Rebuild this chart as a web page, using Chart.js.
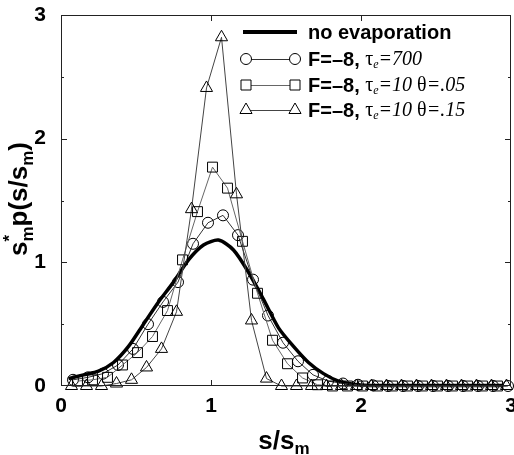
<!DOCTYPE html>
<html>
<head>
<meta charset="utf-8">
<script src="https://cdn.jsdelivr.net/npm/chart.js@4"></script>
<style>
  html,body{margin:0;padding:0;background:#fff;overflow:hidden}
</style>
</head>
<body>
<canvas id="c" width="520" height="455"></canvas>
<script>
// ---------- data ----------
const xNoEvap = [0.05,0.15,0.25,0.35,0.45,0.55,0.65,0.75,0.85,0.95,1.05,1.15,1.25,1.35,1.45,1.55,1.65,1.75,1.85,1.95,2.05,2.15,2.25,2.35,2.45,2.55,2.65,2.75,2.85,2.95];
const yNoEvap = [0.06,0.09,0.12,0.19,0.32,0.50,0.68,0.84,1.02,1.14,1.18,1.10,0.92,0.70,0.47,0.32,0.19,0.10,0.04,0.015,0.005,0.005,0.005,0.005,0.005,0.005,0.005,0.005,0.005,0.005];

const xTau700 = [0.08,0.18,0.28,0.38,0.48,0.58,0.68,0.78,0.88,0.98,1.08,1.18,1.28,1.38,1.48,1.58,1.68,1.78,1.88,1.98,2.08,2.18,2.28,2.38,2.48,2.58,2.68,2.78,2.88,2.98];
const yTau700 = [0.05,0.07,0.10,0.17,0.30,0.50,0.68,0.84,1.15,1.32,1.38,1.22,0.86,0.57,0.35,0.20,0.09,0.04,0.02,0.01,0.005,0,0,0,0,0,0,0,0,0];

const xTheta05 = [0.11,0.21,0.31,0.41,0.51,0.61,0.71,0.81,0.91,1.01,1.11,1.21,1.31,1.41,1.51,1.61,1.71,1.81,1.91,2.01,2.11,2.21,2.31,2.41,2.51,2.61,2.71,2.81,2.91];
const yTheta05 = [0.04,0.05,0.07,0.17,0.27,0.40,0.61,1.02,1.41,1.77,1.60,1.17,0.75,0.37,0.18,0.065,0.01,0,0,0,0,0,0,0,0,0,0,0,0];

const xTheta15 = [0.07,0.17,0.27,0.37,0.47,0.57,0.67,0.77,0.87,0.97,1.07,1.17,1.27,1.37,1.47,1.57,1.67,1.77,1.87,1.97,2.07,2.17,2.27,2.37,2.47,2.57,2.67,2.77,2.87,2.97];
const yTheta15 = [0,0,0,0.02,0.05,0.15,0.30,0.60,1.43,2.41,2.82,1.55,0.53,0.06,0,0,0,0,0,0,0,0,0,0,0,0,0,0,0,0];

const xTicks = [0,1,2,3];
const yTicks = [0,1,2,3];
const minorTicks = [0.5,1.5,2.5];

const SANS = '"Liberation Sans", Arial, sans-serif';
const SERIF = '"Liberation Serif", "Times New Roman", serif';

const pts = (xs, ys)=> xs.map((x,i)=>({x, y:ys[i]}));

// ---------- helpers ----------
function runsWidth(ctx, runs) {
  let w = 0;
  runs.forEach(r=>{ ctx.font = r.f; if (!r.keep) w += ctx.measureText(r.t).width; });
  return w;
}
function drawRuns(ctx, x, y, runs) {
  runs.forEach(r=>{
    ctx.font = r.f;
    ctx.fillText(r.t, x, y + (r.dy||0));
    if (!r.keep) x += ctx.measureText(r.t).width;
  });
}
function marker(ctx, style, x, y) {
  ctx.beginPath();
  if (style==='circle') ctx.arc(x, y, 5.5, 0, Math.PI*2);
  else if (style==='rect') ctx.rect(x-5, y-5, 10, 10);
  else { const r=7; ctx.moveTo(x, y-r); ctx.lineTo(x+0.866*r, y+0.5*r); ctx.lineTo(x-0.866*r, y+0.5*r); ctx.closePath(); }
  ctx.fillStyle='#fff'; ctx.fill(); ctx.stroke();
}

// ---------- frame, ticks, titles, legend ----------
const decor = {
  id:'decor',
  afterDraw(chart) {
    const {ctx, chartArea:a, scales:{x, y}} = chart;
    ctx.save();
    ctx.strokeStyle='#222'; ctx.lineWidth=1;
    ctx.strokeRect(a.left+0.5, a.top+0.5, a.right-a.left-1, a.bottom-a.top-1);
    ctx.beginPath();
    xTicks.slice(1,-1).forEach(v=>{
      const px = Math.round(x.getPixelForValue(v))+0.5;
      ctx.moveTo(px, a.bottom); ctx.lineTo(px, a.bottom-6);
      ctx.moveTo(px, a.top); ctx.lineTo(px, a.top+6);
    });
    yTicks.slice(1,-1).forEach(v=>{
      const py = Math.round(y.getPixelForValue(v))+0.5;
      ctx.moveTo(a.left, py); ctx.lineTo(a.left+6, py);
      ctx.moveTo(a.right, py); ctx.lineTo(a.right-6, py);
    });
    minorTicks.forEach(v=>{
      const py = Math.round(y.getPixelForValue(v))+0.5;
      ctx.moveTo(a.left, py); ctx.lineTo(a.left+3, py);
      ctx.moveTo(a.right, py); ctx.lineTo(a.right-3, py);
    });
    ctx.stroke();

    ctx.fillStyle='#000'; ctx.textBaseline='alphabetic'; ctx.textAlign='left';
    // x title
    const xt = [
      {t:'s/s', f:'bold 26px '+SANS},
      {t:'m', f:'bold 17px '+SANS, dy:5}
    ];
    drawRuns(ctx, 284 - runsWidth(ctx, xt)/2, 449, xt);

    // y title (rotated)
    const yt = [
      {t:'s', f:'bold 26px '+SANS},
      {t:'*', f:'bold 17px '+SANS, dy:-12, keep:true},
      {t:'m', f:'bold 17px '+SANS, dy:6},
      {t:'p(s/s', f:'bold 26px '+SANS},
      {t:'m', f:'bold 17px '+SANS, dy:6},
      {t:')', f:'bold 26px '+SANS}
    ];
    ctx.save();
    ctx.translate(27, 199);
    ctx.rotate(-Math.PI/2);
    drawRuns(ctx, -runsWidth(ctx, yt)/2, 0, yt);
    ctx.restore();

    // legend
    const lx0 = 246, lx1 = 295, tx = 308;
    const rows = [32, 59, 85, 110];
    ctx.lineWidth = 4; ctx.strokeStyle='#000';
    ctx.beginPath(); ctx.moveTo(243, rows[0]); ctx.lineTo(297, rows[0]); ctx.stroke();
    ctx.textBaseline='middle';
    ctx.font='bold 20px '+SANS; ctx.fillText('no evaporation', tx, rows[0]+1);

    const styles = ['circle','rect','triangle'];
    const tails = [
      [{t:'=700', f:'italic 20px '+SERIF}],
      [{t:'=10 ', f:'italic 20px '+SERIF},{t:'θ', f:'20px '+SERIF},{t:'=.05', f:'italic 20px '+SERIF}],
      [{t:'=10 ', f:'italic 20px '+SERIF},{t:'θ', f:'20px '+SERIF},{t:'=.15', f:'italic 20px '+SERIF}]
    ];
    const lineCols = ['#333','#666','#444'];
    styles.forEach((s,i)=>{
      const ry = rows[i+1];
      ctx.lineWidth=1; ctx.strokeStyle=lineCols[i];
      ctx.beginPath(); ctx.moveTo(lx0, ry+0.5); ctx.lineTo(lx1, ry+0.5); ctx.stroke();
      ctx.strokeStyle='#000';
      marker(ctx, s, lx0, ry); marker(ctx, s, lx1, ry);
      ctx.fillStyle='#000';
      drawRuns(ctx, tx, ry+1, [
        {t:'F=–8, ', f:'bold 20px '+SANS},
        {t:'τ', f:'20px '+SERIF},
        {t:'e', f:'italic 12px '+SERIF, dy:5}
      ].concat(tails[i]));
    });
    ctx.restore();
  }
};

// ---------- chart ----------
const series = (label, data, style, color, radius)=>({
  label, data, showLine:true, borderColor:color, borderWidth:1,
  pointStyle:style, pointRadius:radius, pointBorderColor:'#000', pointBorderWidth:1,
  pointBackgroundColor:'rgba(255,255,255,0)', clip:false, tension:0
});

// canvas is 6px wider than the window so the last x label gets cut at the edge like the original
new Chart(document.getElementById('c'), {
  type:'scatter',
  data:{
    datasets:[
      series('F=-8, tau=10 theta=.15', pts(xTheta15, yTheta15), 'triangle', '#444', 7),
      series('F=-8, tau=10 theta=.05', pts(xTheta05, yTheta05), 'rect', '#666', 7),
      series('F=-8, tau=700', pts(xTau700, yTau700), 'circle', '#333', 5.5),
      { label:'no evaporation', data:pts(xNoEvap, yNoEvap), showLine:true, borderColor:'#000',
        borderWidth:3.5, pointRadius:0, tension:0.25, clip:false }
    ]
  },
  options:{
    responsive:false, animation:false,
    layout:{ padding:{left:0, top:15, right:9, bottom:0} },
    plugins:{ legend:{display:false}, tooltip:{enabled:false} },
    scales:{
      x:{
        type:'linear', min:0, max:3,
        afterBuildTicks: s=>{ s.ticks = xTicks.map(v=>({value:v})); },
        afterFit: s=>{ s.height = 69; s.paddingLeft = 0; s.paddingRight = 0; },
        grid:{display:false, drawTicks:false}, border:{display:false},
        ticks:{ color:'#000', padding:8, maxRotation:0, font:{family:SANS, size:21, weight:'bold'} }
      },
      y:{
        type:'linear', min:0, max:3,
        afterBuildTicks: s=>{ s.ticks = yTicks.map(v=>({value:v})); },
        afterFit: s=>{ s.width = 61; s.paddingTop = 0; s.paddingBottom = 0; },
        grid:{display:false, drawTicks:false}, border:{display:false},
        ticks:{ color:'#000', padding:15, font:{family:SANS, size:21, weight:'bold'} }
      }
    }
  },
  plugins:[decor]
});
</script>
</body>
</html>
